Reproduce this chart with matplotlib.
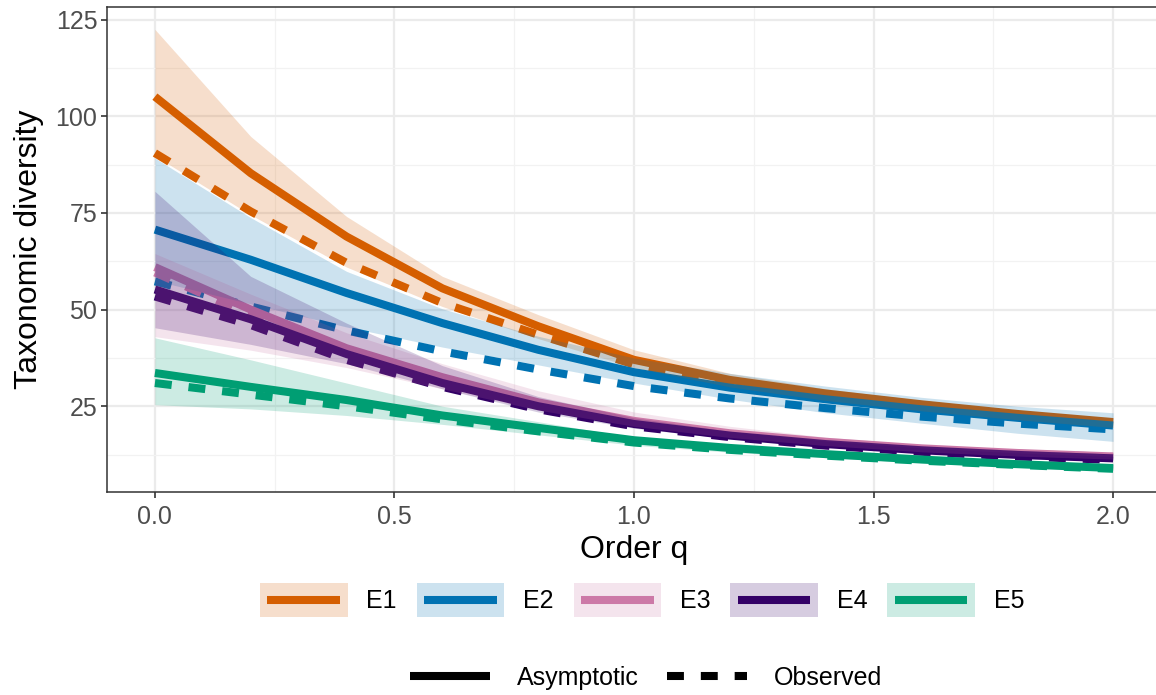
import numpy as np
import matplotlib
matplotlib.use("Agg")
import matplotlib.pyplot as plt
from matplotlib.patches import Patch, Rectangle
from matplotlib.lines import Line2D

plt.rcParams['font.family'] = ['Liberation Sans', 'DejaVu Sans']

# order q
q = [0.0, 0.2, 0.4, 0.6, 0.8, 1.0, 1.2, 1.4, 1.6, 1.8, 2.0]

labels = ['E1', 'E2', 'E3', 'E4', 'E5']
colors = ['#D55E00', '#0072B2', '#CC79A7', '#330066', '#009E73']

# asymptotic estimates
e1_asy = [105.1, 85.3, 68.9, 55.5, 45.7, 37.0, 31.8, 28.3, 25.5, 23.0, 20.9]
e2_asy = [70.7, 62.9, 54.3, 46.5, 39.6, 33.8, 29.8, 26.8, 24.2, 22.0, 20.0]
e3_asy = [61.0, 50.0, 40.0, 32.5, 26.0, 21.2, 18.0, 15.8, 14.1, 12.9, 12.0]
e4_asy = [55.2, 47.5, 38.5, 31.0, 25.0, 20.4, 17.4, 15.2, 13.6, 12.4, 11.5]
e5_asy = [33.6, 30.0, 26.6, 22.6, 19.4, 16.2, 14.2, 12.6, 11.2, 10.0, 9.0]

# observed (empirical)
e1_obs = [90.5, 75.4, 62.1, 51.7, 43.5, 35.8, 30.8, 27.3, 24.6, 22.3, 20.3]
e2_obs = [57.3, 50.8, 44.6, 39.2, 34.5, 30.2, 27.0, 24.5, 22.3, 20.5, 19.0]
e3_obs = [59.6, 48.5, 39.0, 31.8, 25.5, 20.8, 17.7, 15.5, 13.9, 12.7, 11.9]
e4_obs = [53.4, 46.0, 37.0, 30.0, 24.2, 19.8, 17.0, 14.8, 13.2, 12.0, 11.1]
e5_obs = [31.0, 28.0, 25.0, 21.6, 18.5, 15.6, 13.7, 12.2, 10.9, 9.8, 8.8]

# confidence bands
e1_lo = [89.8, 74.5, 61.0, 50.8, 42.5, 35.0, 30.0, 26.5, 23.8, 21.5, 19.5]
e1_hi = [122.5, 94.8, 74.1, 58.6, 48.7, 39.6, 33.5, 29.5, 26.5, 23.9, 21.8]
e2_lo = [57.5, 51.5, 45.5, 40.3, 35.7, 31.0, 26.8, 23.3, 20.6, 18.0, 15.9]
e2_hi = [89.2, 73.8, 59.9, 50.2, 43.1, 37.5, 33.5, 30.2, 27.3, 25.0, 23.3]
e3_lo = [43.0, 39.5, 35.0, 29.5, 24.0, 19.8, 16.9, 14.8, 13.2, 12.1, 11.3]
e3_hi = [64.5, 54.0, 44.0, 36.0, 29.0, 23.5, 19.8, 17.0, 15.0, 13.6, 12.6]
e4_lo = [45.3, 41.0, 36.0, 29.5, 23.5, 19.3, 16.6, 14.5, 13.0, 11.9, 11.0]
e4_hi = [80.6, 58.6, 46.5, 35.5, 27.5, 22.0, 18.5, 16.0, 14.2, 12.9, 12.0]
e5_lo = [25.4, 24.3, 22.6, 20.3, 17.6, 14.9, 13.1, 11.7, 10.4, 9.3, 8.4]
e5_hi = [42.7, 37.0, 31.0, 25.0, 21.0, 16.9, 14.8, 13.1, 11.7, 10.5, 9.5]

asy = [e1_asy, e2_asy, e3_asy, e4_asy, e5_asy]
obs = [e1_obs, e2_obs, e3_obs, e4_obs, e5_obs]
lo = [e1_lo, e2_lo, e3_lo, e4_lo, e5_lo]
hi = [e1_hi, e2_hi, e3_hi, e4_hi, e5_hi]

LW = 5.8
DASH = (0, (2.1, 2.1))
grid_col = '#EBEBEB'
dark = '#333333'

fig = plt.figure(figsize=(11.56, 6.95), dpi=100)
ax = fig.add_axes([107 / 1156, 203 / 695, 1054 / 1156, 485 / 695])

# lines first, bands on top (as the original plot does)
for i in range(5):
    ax.plot(q, asy[i], color=colors[i], lw=LW, solid_capstyle='butt', zorder=3)
    ax.plot(q, obs[i], color=colors[i], lw=LW, linestyle=DASH,
            dash_capstyle='butt', zorder=3)
for i in range(5):
    ax.fill_between(q, lo[i], hi[i], color=colors[i], alpha=0.2, lw=0, zorder=4)

ax.set_xlim(-0.1, 2.1)
ax.set_ylim(2.8, 128.3)
ax.set_xticks([0, 0.5, 1.0, 1.5, 2.0])
ax.set_xticklabels(['0.0', '0.5', '1.0', '1.5', '2.0'])
ax.set_yticks([25, 50, 75, 100, 125])
ax.set_xticks([0.25, 0.75, 1.25, 1.75], minor=True)
ax.set_yticks([12.5, 37.5, 62.5, 87.5, 112.5], minor=True)
ax.grid(True, which='major', color=grid_col, lw=1.6, zorder=0)
ax.grid(True, which='minor', color='#F2F2F2', lw=0.9, zorder=0)
ax.set_axisbelow(True)
ax.tick_params(which='major', length=4, width=1.2, color=dark,
               labelsize=18, labelcolor='#4D4D4D')
ax.tick_params(axis='x', pad=5)
ax.tick_params(axis='y', pad=3)
ax.tick_params(which='minor', length=0)
for s in ax.spines.values():
    s.set_color(dark)
    s.set_linewidth(1.1)

ax.set_xlabel('Order q', fontsize=23, labelpad=5)
ax.set_ylabel('Taxonomic diversity', fontsize=23, labelpad=8)


class KeyHandler:
    def legend_artist(self, legend, orig_handle, fontsize, handlebox):
        col = orig_handle.get_facecolor()[:3]
        x0, y0 = -handlebox.xdescent, -handlebox.ydescent
        w, h = handlebox.width, handlebox.height
        rect = Rectangle((x0, y0), w, h, facecolor=col, alpha=0.2,
                         edgecolor='none', transform=handlebox.get_transform())
        line = Line2D([x0 + 0.085 * w, x0 + 0.915 * w], [y0 + h / 2] * 2,
                      color=col, lw=LW, solid_capstyle='butt',
                      transform=handlebox.get_transform())
        handlebox.add_artist(rect)
        handlebox.add_artist(line)
        return rect


key_handles = [Patch(facecolor=c) for c in colors]
leg1 = fig.legend(key_handles, labels, loc='center', ncol=5,
                  bbox_to_anchor=(642 / 1156, 95 / 695), frameon=False,
                  fontsize=18, handlelength=3.5, handleheight=1.75,
                  handletextpad=0.75, columnspacing=0.8,
                  handler_map={Patch: KeyHandler()})

type_handles = [Line2D([], [], color='black', lw=LW, solid_capstyle='butt'),
                Line2D([], [], color='black', lw=LW, linestyle=DASH,
                       dash_capstyle='butt')]
leg2 = fig.legend(type_handles, ['Asymptotic', 'Observed'], loc='center',
                  ncol=2, bbox_to_anchor=(646 / 1156, 17 / 695), frameon=False,
                  fontsize=18, handlelength=3.2, handletextpad=1.1,
                  columnspacing=1.1)

fig.savefig('out.png', dpi=100)
